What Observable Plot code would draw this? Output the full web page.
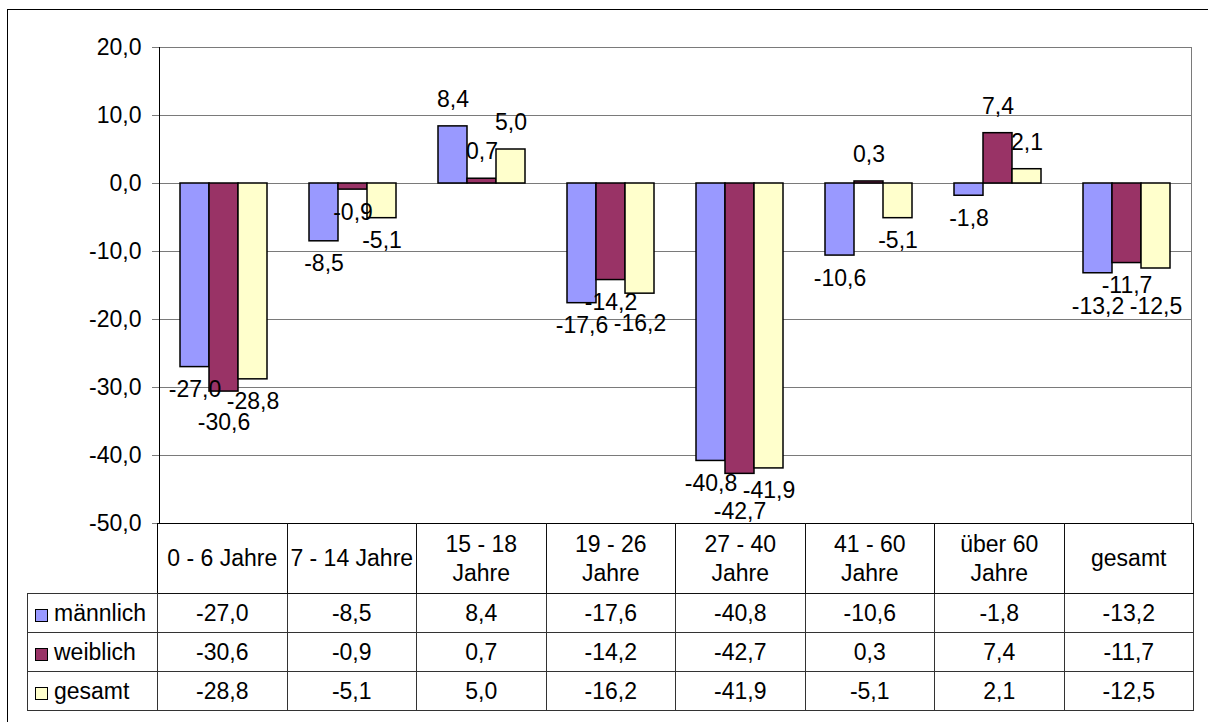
<!DOCTYPE html>
<html>
<head>
<meta charset="utf-8">
<script src="https://cdn.jsdelivr.net/npm/d3@7"></script>
<script src="https://cdn.jsdelivr.net/npm/@observablehq/plot@0.6"></script>
<style>
  html, body { margin: 0; padding: 0; background: #fff; width: 1208px; height: 722px; overflow: hidden; }
  body { position: relative; font-family: "Liberation Sans", Arial, sans-serif; }
  #frame { position: absolute; left: 7px; top: 9px; width: 1400px; height: 900px; border: 1px solid #000; }
  #chart { position: absolute; left: 0; top: 0; }
  #tbl { position: absolute; left: 27px; top: 523px; border-collapse: collapse; table-layout: fixed; width: 1166px;
         font: 23px "Liberation Sans", Arial, sans-serif; color: #000; }
  #tbl td { border: 1px solid #333; padding: 0; text-align: center; vertical-align: middle; white-space: nowrap; line-height: 29px; }
  #tbl tr.head td { height: 69px; border-top: 1px solid #000; border-left-color: #111; border-right-color: #111; border-bottom-color: #111; }
  #tbl tr.head td.blank { border-top: none; border-left: none; border-right: 1px solid #000; border-bottom: 1px solid #333; }
  #tbl tr.row td { height: 38px; }
  #tbl td.key { text-align: left; padding-left: 7px; }
  .sw { display: inline-block; width: 11px; height: 11px; border: 1px solid #000; margin-right: 6px; vertical-align: -1px; }
</style>
</head>
<body>
<div id="frame"></div>
<div id="chart"></div>
<table id="tbl"></table>
<script>
// Age groups (line breaks as shown in the table header)
const categories = ["0 - 6 Jahre", "7 - 14 Jahre", "15 - 18\nJahre", "19 - 26\nJahre",
                    "27 - 40\nJahre", "41 - 60\nJahre", "über 60\nJahre", "gesamt"];
const seriesNames = ["männlich", "weiblich", "gesamt"];
const maennlich = [-27.0, -8.5, 8.4, -17.6, -40.8, -10.6, -1.8, -13.2];
const weiblich  = [-30.6, -0.9, 0.7, -14.2, -42.7,   0.3,  7.4, -11.7];
const gesamt    = [-28.8, -5.1, 5.0, -16.2, -41.9,  -5.1,  2.1, -12.5];
const yTicks = [20, 10, 0, -10, -20, -30, -40, -50];
const colors = ["#9999FF", "#993366", "#FFFFCC"];

const seriesValues = [maennlich, weiblich, gesamt];
const fmt = v => v.toFixed(1).replace(".", ",");

const rows = [];
seriesNames.forEach((s, i) => categories.forEach((c, j) => rows.push({cat: c, series: s, value: seriesValues[i][j]})));

const FONT = '"Liberation Sans", Arial, sans-serif';
const FS = 23;
const base = {
  width: 1208, height: 530,
  marginLeft: 157, marginRight: 15, marginTop: 47, marginBottom: 7,
  fx: {domain: categories, padding: 0, axis: null},
  x: {domain: seriesNames, paddingInner: 0, paddingOuter: 0.7, axis: null},
  y: {domain: [-50, 20]},
  color: {domain: seriesNames, range: colors}
};

// First pass: obtain the scales for placing the value labels
const probe = Plot.plot({...base, marks: [Plot.barY(rows, {fx: "cat", x: "series", y: "value"})]});
const xS = probe.scale("x"), yS = probe.scale("y");

const ctx = document.createElement("canvas").getContext("2d");
ctx.font = `${FS}px ${FONT}`;
const gapBelow = 22.7, gapAbove = 26.8, lineGap = 21;
const labels = rows.map(d => {
  const end = yS.apply(d.value);
  const neg = d.value < 0;
  const text = fmt(d.value);
  return {...d, text, neg, cx: xS.apply(d.series) + xS.bandwidth / 2,
          w: ctx.measureText(text).width, cy: neg ? end + gapBelow : end - gapAbove};
});

// Push overlapping labels within a group away from the zero line
for (const cat of categories) {
  for (const neg of [true, false]) {
    const side = labels.filter(l => l.cat === cat && l.neg === neg)
      .sort((a, b) => neg ? a.cy - b.cy : b.cy - a.cy);
    const placed = [];
    for (const l of side) {
      let moved = true;
      while (moved) {
        moved = false;
        for (const p of placed) {
          if (Math.abs(p.cx - l.cx) < (p.w + l.w) / 2 && Math.abs(p.cy - l.cy) < lineGap - 0.01) {
            l.cy = neg ? p.cy + lineGap : p.cy - lineGap;
            moved = true;
          }
        }
      }
      placed.push(l);
    }
  }
}
labels.forEach(l => { l.ly = yS.invert(l.cy); });

const chart = Plot.plot({
  ...base,
  style: {fontFamily: FONT, fontSize: `${FS}px`, background: "transparent", color: "#000", overflow: "visible"},
  marks: [
    Plot.gridY({ticks: yTicks, stroke: "#7a7a7a", strokeOpacity: 1}),
    Plot.barY(rows, {fx: "cat", x: "series", y: "value", fill: "series", stroke: "#000", strokeWidth: 1.5}),
    Plot.frame({anchor: "left", facetAnchor: "left", stroke: "#000"}),
    Plot.frame({anchor: "right", facetAnchor: "right", stroke: "#7a7a7a"}),
    Plot.axisY({ticks: yTicks, tickSize: 7, tickPadding: 11, tickFormat: fmt, stroke: "#7a7a7a", fill: "#000", label: null}),
    Plot.text(labels, {fx: "cat", x: "series", y: "ly", text: "text", fill: "#000", fontSize: FS})
  ]
});
document.getElementById("chart").appendChild(chart);

// Data table with the legend keys
const tbl = document.getElementById("tbl");
let html = "<colgroup><col style='width:130px'>" + categories.map(() => "<col style='width:129.5px'>").join("") + "</colgroup>";
html += "<tr class='head'><td class='blank'></td>" + categories.map(c => `<td>${c.split("\n").join("<br>")}</td>`).join("") + "</tr>";
seriesNames.forEach((s, i) => {
  html += `<tr class='row'><td class='key'><span class='sw' style='background:${colors[i]}'></span>${s}</td>` +
          seriesValues[i].map(v => `<td>${fmt(v)}</td>`).join("") + "</tr>";
});
tbl.innerHTML = html;
</script>
</body>
</html>
